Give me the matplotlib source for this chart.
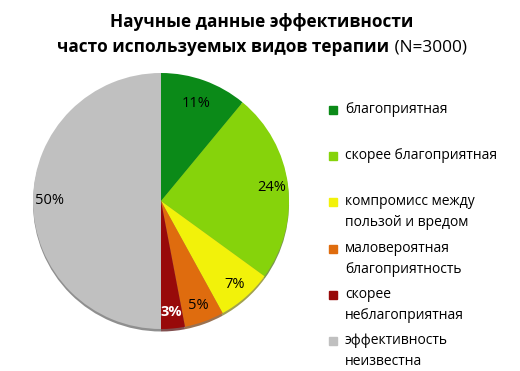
import numpy as np
import matplotlib
matplotlib.use("Agg")
import matplotlib.pyplot as plt
from matplotlib.patches import Rectangle

plt.rcParams['font.family'] = ['Open Sans', 'DejaVu Sans']

# data
shares = [11, 24, 7, 5, 3, 50]
labels = ["благоприятная",
          "скорее благоприятная",
          "компромисс между\nпользой и вредом",
          "маловероятная\nблагоприятность",
          "скорее\nнеблагоприятная",
          "эффективность\nнеизвестна"]
colors = ["#0b8a18", "#86d30b", "#f2f20a", "#df6c0e", "#980a0a", "#c0c0c0"]
pct_colors = ["black", "black", "black", "black", "white", "black"]
title_bold_1 = "Научные данные эффективности"
title_bold_2 = "часто используемых видов терапии"
title_norm_2 = " (N=3000)"

W, H = 520, 371
fig = plt.figure(figsize=(W / 100, H / 100), dpi=100)

cx, cy, r = 161, 201, 128
box = 140
ax = fig.add_axes([(cx - box) / W, (H - cy - box) / H, 2 * box / W, 2 * box / H])
wedges, texts, autotexts = ax.pie(
    shares, colors=colors, startangle=90, counterclock=False,
    radius=1.0, autopct="%d%%", pctdistance=0.87,
    wedgeprops=dict(linewidth=0),
    shadow=dict(ox=0.0, oy=-0.014, shade=0.5, alpha=0.7),
    textprops=dict(fontsize=10.5))
for t, c in zip(autotexts, pct_colors):
    t.set_color(c)
    if c == "white":
        t.set_fontweight("bold")
# first label sits a bit closer to the centre in the original
x, y = autotexts[0].get_position()
autotexts[0].set_position((x * 0.93, y * 0.93))
lim = box / r
ax.set_xlim(-lim, lim)
ax.set_ylim(-lim, lim)
ax.set_aspect("equal")
ax.axis("off")

# legend drawn by hand (handle at first line like the original)
lx, ly0, step = 333, 110, 46.2
for i, (lab, col) in enumerate(zip(labels, colors)):
    y = ly0 + i * step
    fig.patches.append(Rectangle(((lx - 4) / W, (H - y - 4) / H), 8 / W, 8 / H,
                                 transform=fig.transFigure, color=col))
    fig.text((lx + 12) / W, (H - y + 8) / H, lab, fontsize=10, va="top",
             ha="left", linespacing=1.55)

# title with mixed weights
fs = 12.4
fig.text(262 / W, (H - 22) / H, title_bold_1, fontsize=fs, fontweight="bold",
         ha="center", va="center")
t1 = fig.text(0, (H - 47) / H, title_bold_2, fontsize=fs, fontweight="bold",
              ha="left", va="center")
t2 = fig.text(0, (H - 47) / H, title_norm_2, fontsize=fs, ha="left", va="center")
fig.canvas.draw()
rend = fig.canvas.get_renderer()
w1 = t1.get_window_extent(rend).width
w2 = t2.get_window_extent(rend).width
x0 = 262 - (w1 + w2) / 2
t1.set_x(x0 / W)
t2.set_x((x0 + w1) / W)

fig.savefig("out.png", dpi=100)
